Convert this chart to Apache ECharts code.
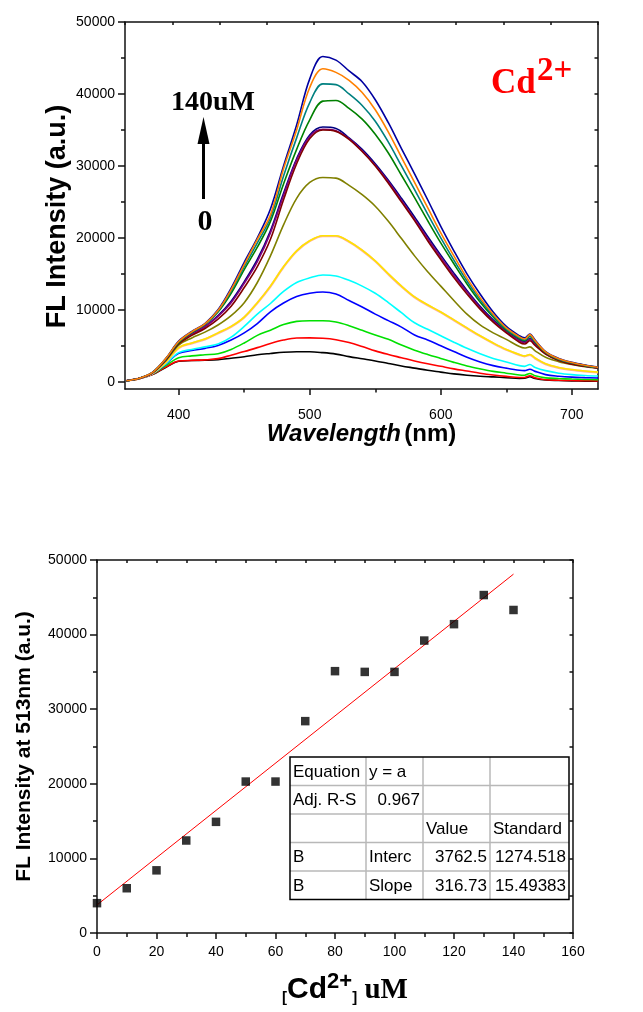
<!DOCTYPE html>
<html>
<head>
<meta charset="utf-8">
<script src="https://cdn.jsdelivr.net/npm/echarts@6/dist/echarts.min.js"></script>
<style>
  html, body { margin: 0; padding: 0; background: #fff; }
  #chart { width: 643px; height: 1012px; }
</style>
</head>
<body>
<div id="chart"></div>
<script>
// wavelength grid (nm) shared by every spectrum
const wavelength = [360, 370, 380, 390, 400, 410, 420, 430, 440, 450, 460, 470, 480, 490, 500, 510, 520, 530, 540, 550,
	560, 570, 580, 590, 600, 610, 620, 630, 640, 650, 660, 664, 668, 672, 680, 690, 700, 710, 720];

// FL spectra, one per Cd2+ concentration (uM)
const spec0 = [150, 430, 1000, 2000, 2850, 2950, 3000, 3080, 3280, 3480, 3760, 3940, 4100, 4170, 4170, 4050, 3850, 3500, 3200, 2900,
	2550, 2200, 1900, 1600, 1350, 1100, 920, 780, 680, 580, 480, 500, 700, 460, 250, 180, 130, 100, 90];
const spec10 = [150, 440, 1050, 2050, 2880, 2980, 3050, 3220, 3700, 4200, 4750, 5330, 5800, 6080, 6100, 6050, 5850, 5450, 4900, 4300,
	3800, 3350, 2900, 2500, 2150, 1800, 1500, 1200, 950, 750, 600, 600, 850, 550, 280, 220, 180, 150, 120];
const spec20 = [150, 450, 1100, 2250, 3350, 3600, 3750, 3900, 4500, 5400, 6450, 7180, 7950, 8400, 8480, 8480, 8300, 7800, 7150, 6500,
	5900, 5100, 4400, 3800, 3250, 2700, 2200, 1800, 1450, 1200, 950, 920, 1150, 850, 550, 450, 380, 330, 300];
const spec30 = [150, 460, 1150, 2450, 3950, 4350, 4650, 5050, 5800, 6800, 8100, 9730, 10950, 11850, 12300, 12480, 12200, 11300, 10400, 9400,
	8500, 7600, 6500, 5800, 5000, 4200, 3400, 2750, 2250, 1900, 1600, 1550, 1750, 1450, 1000, 780, 650, 580, 520];
const spec40 = [150, 460, 1150, 2500, 4050, 4500, 4850, 5250, 6200, 7700, 9400, 10880, 12550, 13800, 14450, 14850, 14700, 14100, 13300, 12300,
	11000, 9600, 8200, 7300, 6400, 5500, 4650, 3900, 3250, 2750, 2250, 2150, 2400, 2000, 1550, 1200, 1000, 880, 800];
const spec50 = [150, 470, 1200, 2680, 4700, 5350, 5900, 6750, 7650, 8950, 10950, 13250, 15950, 18150, 19550, 20250, 20250, 19450, 18250, 16750,
	14950, 13250, 11750, 10650, 9650, 8550, 7450, 6350, 5350, 4450, 3750, 3550, 3750, 3250, 2450, 1950, 1650, 1450, 1300];
const spec60 = [150, 470, 1200, 2700, 4750, 5400, 5950, 6800, 7700, 9000, 11000, 13300, 16000, 18200, 19600, 20300, 20300, 19500, 18300, 16800,
	15000, 13300, 11800, 10700, 9700, 8600, 7500, 6400, 5400, 4500, 3800, 3600, 3800, 3300, 2500, 2000, 1700, 1500, 1350];
const spec70 = [150, 480, 1250, 2900, 5100, 6100, 6900, 7900, 9200, 11000, 13800, 17500, 21800, 25500, 27700, 28400, 28300, 27300, 26000, 24400,
	22300, 19900, 17500, 15300, 13300, 11300, 9400, 7900, 6800, 5900, 4900, 4700, 4850, 4300, 3400, 2800, 2400, 2100, 1900];
const spec80 = [150, 480, 1280, 3050, 5350, 6650, 7700, 9200, 11200, 13900, 17000, 21000, 26200, 31000, 34300, 35400, 35200, 33900, 32300, 30300,
	28000, 25500, 22900, 20200, 17600, 15100, 12700, 10500, 8600, 7000, 5800, 5550, 6000, 5300, 3950, 3050, 2550, 2200, 1950];
const spec90 = [150, 480, 1280, 3050, 5350, 6600, 7650, 9100, 11000, 13700, 16700, 20700, 25900, 30800, 34100, 35100, 34900, 33800, 32100, 30100,
	27800, 25200, 22600, 19900, 17300, 14800, 12500, 10300, 8450, 6900, 5700, 5450, 5900, 5200, 3900, 3000, 2500, 2180, 1930];
const spec100 = [150, 470, 1250, 3000, 5250, 6450, 7400, 8700, 10500, 13100, 16000, 19800, 25300, 30300, 33800, 35000, 34800, 33700, 32000, 30000,
	27600, 25000, 22400, 19600, 17000, 14500, 12200, 10100, 8300, 6800, 5500, 5250, 5700, 5050, 3850, 2950, 2450, 2150, 1900];
const spec110 = [150, 490, 1300, 3150, 5450, 6850, 7950, 9700, 12300, 15600, 18700, 22300, 27500, 32300, 36400, 39000, 39100, 38000, 36500, 34400,
	31800, 28700, 25600, 22400, 19300, 16400, 13600, 11100, 9000, 7200, 6000, 5700, 6300, 5500, 4050, 3100, 2600, 2250, 1980];
const spec120 = [150, 490, 1300, 3150, 5550, 6900, 8000, 9800, 12600, 16000, 19300, 22800, 28600, 33900, 38800, 41400, 41300, 40000, 38400, 36200,
	33300, 30000, 26700, 23300, 20000, 16900, 14000, 11400, 9200, 7350, 6100, 5800, 6400, 5600, 4100, 3150, 2650, 2280, 2000];
const spec130 = [150, 490, 1300, 3200, 5650, 7000, 8100, 10000, 13000, 16600, 20000, 24000, 30000, 35700, 42100, 45200, 44700, 43200, 41700, 39200,
	36000, 32400, 28900, 25300, 21600, 18200, 15000, 12200, 9700, 7700, 6400, 6100, 6650, 5800, 4200, 3250, 2700, 2330, 2050];
const spec140 = [150, 490, 1300, 3200, 5600, 6950, 8050, 9900, 12800, 16300, 19800, 23200, 29600, 35000, 40900, 43500, 43000, 41900, 40200, 37800,
	34700, 31200, 27700, 24200, 20700, 17500, 14400, 11700, 9400, 7500, 6250, 5950, 6550, 5700, 4150, 3200, 2680, 2300, 2030];

const spectra = [spec0, spec10, spec20, spec30, spec40, spec50, spec60, spec70,
	spec80, spec90, spec100, spec110, spec120, spec130, spec140];
const spectraColors = ["#000000", "#ff0000", "#00e000", "#0000ff", "#00ffff", "#ffb0a0", "#ffe400", "#808000",
	"#000080", "#800080", "#800000", "#008000", "#008080", "#0000a0", "#ff8000"];

// intensity at 513 nm vs concentration
const concentration = [0, 10, 20, 30, 40, 50, 60, 70, 80, 90, 100, 110, 120, 130, 140];
const intensity513 = [4000, 6000, 8400, 12400, 14900, 20300, 20300, 28400, 35100, 35000, 35000, 39200, 41400, 45300, 43300];
const fitX = [0, 140];
const fitY = [3762.5, 48104.7];

// tick labels
const specXLabels = [400, 500, 600, 700];
const specXMinor = [450, 550, 650];
const specYLabels = [0, 10000, 20000, 30000, 40000, 50000];
const specYMinor = [5000, 15000, 25000, 35000, 45000];
const specYRight = [5000, 10000, 15000, 20000, 25000, 30000, 35000, 40000, 45000];

// fit table
const fitTable = [
	["Equation", "y = a", "", ""],
	["Adj. R-S", "0.967", "", ""],
	["", "", "Value", "Standard"],
	["B", "Interc", "3762.5", "1274.518"],
	["B", "Slope", "316.73", "15.49383"],
];

const SANS = '"Liberation Sans", Arial, sans-serif';
const SERIF = '"Liberation Serif", "Times New Roman", serif';
const AXIS_COLOR = "#111";

const chartDom = document.getElementById("chart");
const myChart = echarts.init(chartDom, null, { width: 643, height: 1012, renderer: "canvas" });

const plain = (v) => String(v);
const labelStyle = (margin) => ({ fontFamily: SANS, fontSize: 14, color: "#000", margin, formatter: plain });
const lineStyle = { color: AXIS_COLOR, width: 1.5 };
const axisLine = { show: true, onZero: false, lineStyle };
const noLine = { show: false, onZero: false };

const tableCols = [290, 366, 423, 490, 569];
const tableRowsY = [757, 785.5, 814, 842.5, 871, 899.5];

const tableGraphics = () => {
	const els = [];
	for (let r = 1; r < tableRowsY.length - 1; r++) {
		els.push({ type: "line", shape: { x1: tableCols[0], y1: tableRowsY[r], x2: tableCols[4], y2: tableRowsY[r] },
			style: { stroke: "#b8b8b8", lineWidth: 1.5 }, z: 10 });
	}
	for (let c = 1; c < tableCols.length - 1; c++) {
		els.push({ type: "line", shape: { x1: tableCols[c], y1: tableRowsY[0], x2: tableCols[c], y2: tableRowsY[5] },
			style: { stroke: "#b8b8b8", lineWidth: 1.5 }, z: 10 });
	}
	els.push({ type: "rect", shape: { x: tableCols[0], y: tableRowsY[0], width: tableCols[4] - tableCols[0], height: tableRowsY[5] - tableRowsY[0] },
		style: { fill: null, stroke: "#000", lineWidth: 1.5 }, z: 11 });
	fitTable.forEach((row, r) => {
		row.forEach((txt, c) => {
			if (!txt) return;
			const numeric = /^[\d.]+$/.test(txt);
			els.push({
				type: "text", z: 12,
				x: numeric ? tableCols[c + 1] - 3 : tableCols[c] + 3,
				y: (tableRowsY[r] + tableRowsY[r + 1]) / 2 + 1,
				style: { text: txt, font: "17px " + SANS, fill: "#000", align: numeric ? "right" : "left", verticalAlign: "middle" },
			});
		});
	});
	return els;
};

const option = {
	animation: false,
	backgroundColor: "#fff",
	grid: [
		{ left: 125, top: 22, width: 473, height: 367, outerBoundsMode: "none", containLabel: false },
		{ left: 97, top: 560, width: 476, height: 373, outerBoundsMode: "none", containLabel: false },
	],
	xAxis: [
		{
			type: "value", gridIndex: 0, position: "bottom", min: 359, max: 720,
			axisLine,
			axisTick: { show: true, customValues: specXLabels, length: 6, lineStyle },
			axisLabel: { customValues: specXLabels, ...labelStyle(19) },
			splitLine: { show: false },
			name: "{i|Wavelength} {n|(nm)}", nameLocation: "middle", nameGap: 33, nameMoveOverlap: false,
			nameTextStyle: {
				rich: {
					i: { fontFamily: SANS, fontSize: 24, fontWeight: "bold", fontStyle: "italic", color: "#000" },
					n: { fontFamily: SANS, fontSize: 24, fontWeight: "bold", color: "#000" },
				},
			},
		},
		{
			type: "value", gridIndex: 0, position: "bottom", min: 359, max: 720,
			axisLine: noLine,
			axisTick: { show: true, customValues: specXMinor, length: 3.5, lineStyle },
			axisLabel: { show: false }, splitLine: { show: false },
		},
		{
			type: "value", gridIndex: 0, position: "top", min: 0, max: 10, interval: 1,
			axisLine,
			axisTick: { show: true, inside: true, length: 3, lineStyle },
			axisLabel: { show: false }, splitLine: { show: false },
		},
		{
			type: "value", gridIndex: 1, position: "bottom", min: 0, max: 160, interval: 20,
			axisLine,
			axisTick: { show: true, length: 6, lineStyle },
			minorTick: { show: true, splitNumber: 2, length: 4, lineStyle },
			axisLabel: labelStyle(12),
			splitLine: { show: false }, minorSplitLine: { show: false },
			name: "{br|[}{cd|Cd}{sup|2+}{br|]}{um| uM}", nameLocation: "middle", nameGap: 38, nameMoveOverlap: false,
			nameTextStyle: {
				padding: [0, 0, 0, 20],
				rich: {
					br: { fontFamily: SANS, fontSize: 15, fontWeight: "bold", color: "#000", lineHeight: 34, verticalAlign: "bottom" },
					cd: { fontFamily: SANS, fontSize: 30, fontWeight: "bold", color: "#000", lineHeight: 34, verticalAlign: "bottom" },
					sup: { fontFamily: SANS, fontSize: 22, fontWeight: "bold", color: "#000", lineHeight: 34, verticalAlign: "top" },
					um: { fontFamily: SERIF, fontSize: 29, fontWeight: "bold", color: "#000", lineHeight: 34, verticalAlign: "bottom" },
				},
			},
		},
		{
			type: "value", gridIndex: 1, position: "top", min: 0, max: 160, interval: 10,
			axisLine,
			axisTick: { show: true, inside: true, length: 3, lineStyle },
			axisLabel: { show: false }, splitLine: { show: false },
		},
	],
	yAxis: [
		{
			type: "value", gridIndex: 0, position: "left", min: -1000, max: 50000,
			axisLine,
			axisTick: { show: true, customValues: specYLabels, length: 7, lineStyle },
			axisLabel: { customValues: specYLabels, ...labelStyle(10) },
			splitLine: { show: false },
			name: "FL Intensity (a.u.)", nameLocation: "middle", nameGap: 54, nameMoveOverlap: false,
			nameTextStyle: { fontFamily: SANS, fontSize: 27, fontWeight: "bold", color: "#000", padding: [0, 22, 0, 0] },
		},
		{
			type: "value", gridIndex: 0, position: "left", min: -1000, max: 50000,
			axisLine: noLine,
			axisTick: { show: true, customValues: specYMinor, length: 4, lineStyle },
			axisLabel: { show: false }, splitLine: { show: false },
		},
		{
			type: "value", gridIndex: 0, position: "right", min: -1000, max: 50000,
			axisLine,
			axisTick: { show: true, inside: true, customValues: specYRight, length: 3.5, lineStyle },
			axisLabel: { show: false }, splitLine: { show: false },
		},
		{
			type: "value", gridIndex: 1, position: "left", min: 0, max: 50000, interval: 10000,
			axisLine,
			axisTick: { show: true, length: 7, lineStyle },
			minorTick: { show: true, splitNumber: 2, length: 4, lineStyle },
			axisLabel: labelStyle(10),
			splitLine: { show: false }, minorSplitLine: { show: false },
			name: "FL Intensity at 513nm (a.u.)", nameLocation: "middle", nameGap: 62, nameMoveOverlap: false,
			nameTextStyle: { fontFamily: SANS, fontSize: 21, fontWeight: "bold", color: "#000" },
		},
		{
			type: "value", gridIndex: 1, position: "right", min: 0, max: 50000, interval: 5000,
			axisLine,
			axisTick: { show: true, inside: true, length: 3.5, lineStyle },
			axisLabel: { show: false }, splitLine: { show: false },
		},
	],
	series: [
		...spectra.map((values, i) => ({
			type: "line",
			name: concentration[i] + " uM",
			xAxisIndex: 0,
			yAxisIndex: 0,
			data: wavelength.map((w, k) => [w, values[k]]),
			showSymbol: false,
			smooth: 0.35,
			lineStyle: { color: spectraColors[i], width: i === 5 ? 2.3 : 1.6 },
			z: 2 + i,
		})),
		{
			type: "line",
			xAxisIndex: 3,
			yAxisIndex: 3,
			data: fitX.map((x, k) => [x, fitY[k]]),
			showSymbol: false,
			lineStyle: { color: "#ff0000", width: 1 },
			z: 3,
		},
		{
			type: "scatter",
			xAxisIndex: 3,
			yAxisIndex: 3,
			data: concentration.map((c, k) => [c, intensity513[k]]),
			symbol: "rect",
			symbolSize: 8.5,
			itemStyle: { color: "#000" },
			z: 4,
		},
	],
	graphic: [
		{ type: "text", x: 213, y: 103, style: { text: "140uM", font: "bold 28px " + SERIF, fill: "#000", align: "center", verticalAlign: "middle" } },
		{ type: "line", shape: { x1: 203.5, y1: 199, x2: 203.5, y2: 138 }, style: { stroke: "#000", lineWidth: 3 } },
		{ type: "polygon", shape: { points: [[197.5, 144], [209.5, 144], [203.5, 117]] }, style: { fill: "#000" } },
		{ type: "text", x: 205, y: 222, style: { text: "0", font: "bold 30px " + SERIF, fill: "#000", align: "center", verticalAlign: "middle" } },
		{ type: "text", x: 491, y: 84, style: { text: "Cd", font: "bold 35px " + SERIF, fill: "#ff0000", align: "left", verticalAlign: "middle" } },
		{ type: "text", x: 537, y: 71, style: { text: "2+", font: "bold 33px " + SERIF, fill: "#ff0000", align: "left", verticalAlign: "middle" } },
		...tableGraphics(),
	],
};

myChart.setOption(option);
</script>
</body>
</html>
